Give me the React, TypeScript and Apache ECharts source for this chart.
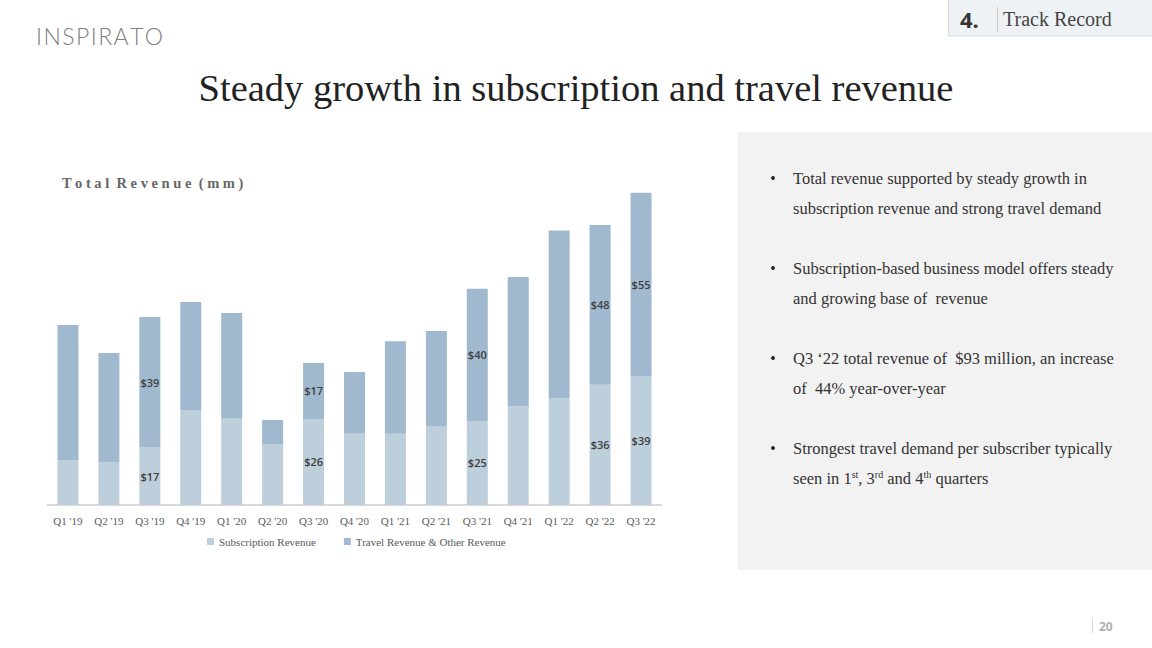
import React, { useEffect, useRef } from "react";
import * as echarts from "echarts";

const categories = ["Q1 '19", "Q2 '19", "Q3 '19", "Q4 '19", "Q1 '20", "Q2 '20", "Q3 '20", "Q4 '20", "Q1 '21", "Q2 '21", "Q3 '21", "Q4 '21", "Q1 '22", "Q2 '22", "Q3 '22"];
const subscriptionRevenue = [13.6, 13.0, 17.4, 28.7, 26.3, 18.4, 26.0, 21.5, 21.5, 23.9, 25.4, 29.9, 32.3, 36.3, 39.0];
const travelRevenue = [40.8, 32.9, 39.4, 32.6, 31.7, 7.3, 16.9, 18.7, 28.0, 28.7, 39.9, 39.0, 50.6, 48.3, 55.3];
const labeledIndices = [2, 6, 10, 13, 14];
const seriesNames = ["Subscription Revenue", "Travel Revenue & Other Revenue"];
const bullets = [
  ["Total revenue supported by steady growth in", "subscription revenue and strong travel demand"],
  ["Subscription-based business model offers steady", "and growing base of  revenue"],
  ["Q3 \u201822 total revenue of  $93 million, an increase", "of  44% year-over-year"],
  ["Strongest travel demand per subscriber typically", "{n|seen in 1}{s|st}{n|, 3}{s|rd}{n| and 4}{s|th}{n| quarters}"],
];

const SERIF = "Liberation Serif";
const SANS = "Open Sans";

export default function App() {
  const ref = useRef<HTMLDivElement>(null);
  useEffect(() => {
    if (!ref.current) return;
    const chart = echarts.init(ref.current, null, { renderer: "svg" });
    const mk = (vals: number[]) =>
      vals.map((v, i) => ({
        value: v,
        label: { show: labeledIndices.includes(i) },
      }));
    const labelStyle = {
      position: "inside",
      formatter: (p: any) => "$" + Math.round(p.value),
      fontFamily: SANS,
      fontWeight: 600,
      fontSize: 11,
      color: "#404040",
    };
    const graphics: any[] = [];
    graphics.push({ type: "rect", shape: { x: 738, y: 132, width: 414, height: 438 }, style: { fill: "#f2f2f2" }, z: -10 });
    bullets.forEach((b, bi) => {
      const y0 = 178 + bi * 90;
      graphics.push({ type: "circle", shape: { cx: 773, cy: y0, r: 1.9 }, style: { fill: "#222" } });
      b.forEach((line, li) => {
        const st: any = {
          text: line,
          fontFamily: SERIF,
          fontSize: 16.5,
          fill: "#333",
          verticalAlign: "middle",
        };
        if (line.includes("{")) {
          st.rich = {
            n: { fontSize: 16.5, fontFamily: SERIF, fill: "#333" },
            s: { fontSize: 10, fontFamily: SERIF, fill: "#333", verticalAlign: "top", padding: [0, 0, 8, 0] },
          };
        }
        graphics.push({ type: "text", x: 793, y: y0 + li * 30, style: st });
      });
    });
    graphics.push({ type: "rect", shape: { x: 948.5, y: -1, width: 204, height: 37 }, style: { fill: "#eef2f5", stroke: "#d6dee5", lineWidth: 1 } });
    graphics.push({ type: "text", x: 960, y: 19, style: { text: "4.", fontFamily: SANS, fontWeight: "bold", fontSize: 22, fill: "#333", verticalAlign: "middle" } });
    graphics.push({ type: "line", shape: { x1: 997.5, y1: 7, x2: 997.5, y2: 32 }, style: { stroke: "#c8c8c8", lineWidth: 1 } });
    graphics.push({ type: "text", x: 1003, y: 19, style: { text: "Track Record", fontFamily: SERIF, fontSize: 20, fill: "#444", verticalAlign: "middle" } });
    graphics.push({ type: "text", x: 36, y: 36, style: { text: "I\u200aN\u200aS\u200aP\u200aI\u200aR\u200aA\u200aT\u200aO", fontFamily: "Lato", fontWeight: 300, fontSize: 23, fill: "#808080", verticalAlign: "middle" } });
    graphics.push({ type: "line", shape: { x1: 1092.5, y1: 619, x2: 1092.5, y2: 633 }, style: { stroke: "#d0d8e0", lineWidth: 1 } });
    graphics.push({ type: "text", x: 1099, y: 626, style: { text: "20", fontFamily: SANS, fontWeight: "bold", fontSize: 12, fill: "#b0b0b0", verticalAlign: "middle" } });

    chart.setOption({
      animation: false,
      title: [
        {
          text: "Steady growth in subscription and travel revenue",
          left: "center",
          top: 63,
          textStyle: { fontFamily: SERIF, fontWeight: "normal", fontSize: 38.5, color: "#222" },
        },
        {
          text: "T o t a l  R e v e n u e  ( m m )",
          left: 57,
          top: 170,
          textStyle: { fontFamily: SERIF, fontWeight: "bold", fontSize: 14.5, color: "#666" },
        },
      ],
      legend: {
        data: seriesNames,
        left: 202,
        top: 531,
        itemWidth: 7,
        itemHeight: 7,
        itemGap: 28,
        icon: "rect",
        textStyle: { fontFamily: SERIF, fontSize: 11, color: "#595959" },
      },
      grid: { left: 47.5, right: 490.5, top: 174, bottom: 143 },
      xAxis: {
        type: "category",
        data: categories,
        axisLine: { lineStyle: { color: "#d9d9d9", width: 2 } },
        axisTick: { show: false },
        axisLabel: { fontFamily: SERIF, fontSize: 11, color: "#595959", margin: 10 },
      },
      yAxis: { type: "value", min: 0, max: 100, show: false, splitLine: { show: false } },
      series: [
        {
          name: seriesNames[0],
          type: "bar",
          stack: "total",
          barWidth: 21,
          data: mk(subscriptionRevenue),
          itemStyle: { color: "#bccfdb" },
          label: labelStyle,
        },
        {
          name: seriesNames[1],
          type: "bar",
          stack: "total",
          barWidth: 21,
          data: mk(travelRevenue),
          itemStyle: { color: "#a0b9cf" },
          label: labelStyle,
        },
      ],
      graphic: graphics,
    });
    return () => chart.dispose();
  }, []);
  return <div ref={ref} style={{ position: "fixed", left: 0, top: 0, width: 1152, height: 648, background: "#fff" }} />;
}
